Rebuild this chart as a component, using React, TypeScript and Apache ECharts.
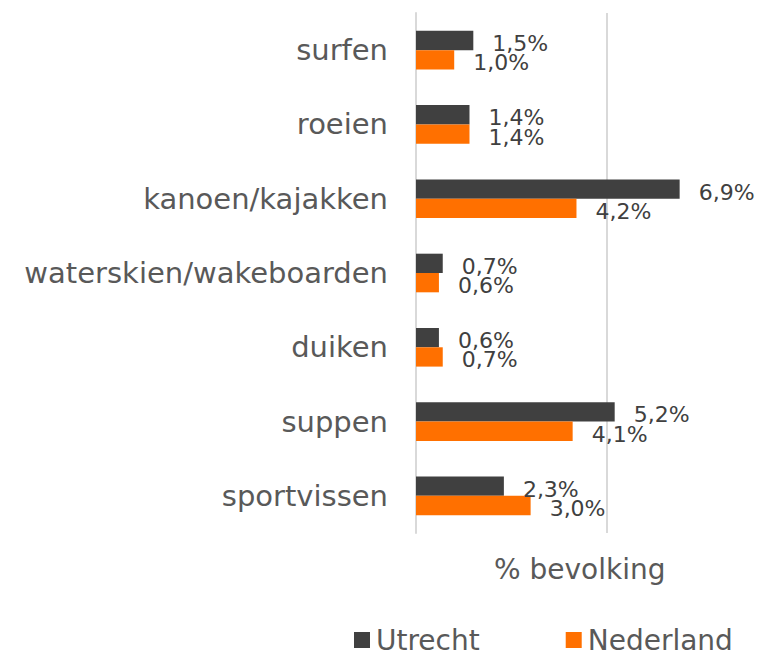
import React, { useEffect, useRef } from "react";
import * as echarts from "echarts";

const categories = ["surfen", "roeien", "kanoen/kajakken", "waterskien/wakeboarden", "duiken", "suppen", "sportvissen"];
const utrecht = [1.5, 1.4, 6.9, 0.7, 0.6, 5.2, 2.3];
const nederland = [1.0, 1.4, 4.2, 0.6, 0.7, 4.1, 3.0];
const seriesNames = ["Utrecht", "Nederland"];
const gridValues = [5];
const axisMax = 9.16;
const axisTitle = "% bevolking";

const FONT = "DejaVu Sans";
const GRID = "#d9d9d9";

export default function App() {
  const ref = useRef<HTMLDivElement>(null);
  useEffect(() => {
    document.body.style.margin = "0";
    const chart = echarts.init(ref.current!, null, { renderer: "svg" });
    const fmt = (p: any) => String(p.value).replace(".", ",") + (String(p.value).includes(".") ? "" : ",0") + "%";
    const label = {
      show: true,
      position: "right",
      distance: 19,
      offset: [0, 3],
      color: "#404040",
      fontSize: 22,
      fontFamily: FONT,
      formatter: fmt,
    };
    chart.setOption({
      animation: false,
      textStyle: { fontFamily: FONT },
      grid: { left: 416, right: 0, top: 13, bottom: 122, containLabel: false },
      xAxis: {
        type: "value",
        min: 0,
        max: axisMax,
        axisLabel: { show: false },
        axisLine: { show: false },
        axisTick: { show: false },
        splitLine: { show: false },
      },
      yAxis: {
        type: "category",
        data: categories,
        inverse: true,
        axisLine: { show: true, lineStyle: { color: GRID, width: 2 } },
        axisTick: { show: false },
        axisLabel: { color: "#595959", fontSize: 29, fontFamily: FONT, margin: 28 },
      },
      legend: {
        data: seriesNames,
        left: 354,
        top: 626,
        itemWidth: 16,
        itemHeight: 16,
        itemGap: 86,
        icon: "rect",
        padding: 0,
        textStyle: { color: "#595959", fontSize: 28, lineHeight: 26, fontFamily: FONT, padding: [0, 0, 0, 1] },
      },
      graphic: [
        {
          type: "text",
          left: 494,
          top: 555,
          style: { text: axisTitle, fill: "#595959", fontSize: 28, fontFamily: FONT },
        },
      ],
      series: [
        {
          name: seriesNames[0],
          type: "bar",
          data: utrecht,
          barGap: "0%",
          barCategoryGap: "48%",
          itemStyle: { color: "#404040" },
          label,
          markLine: {
            silent: true,
            symbol: "none",
            label: { show: false },
            lineStyle: { color: GRID, type: "solid", width: 2 },
            data: gridValues.map((v) => ({ xAxis: v })),
            z: 0,
          },
        },
        {
          name: seriesNames[1],
          type: "bar",
          data: nederland,
          itemStyle: { color: "#ff7000" },
          label,
        },
      ],
    });
    return () => chart.dispose();
  }, []);
  return <div ref={ref} style={{ width: 766, height: 655 }} />;
}
